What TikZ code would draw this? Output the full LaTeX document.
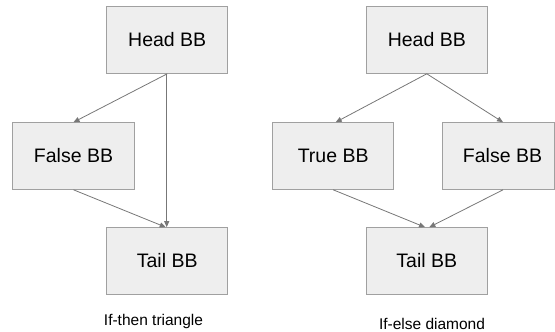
\documentclass[tikz,border=0pt]{standalone}
\usepackage{fontspec}
\setmainfont{Liberation Sans}
\usetikzlibrary{arrows.meta}
\definecolor{boxfill}{HTML}{EEEEEE}
\definecolor{boxline}{HTML}{A0A0A0}
\definecolor{edgecol}{HTML}{777777}
\tikzset{
  bb/.style={draw=boxline, fill=boxfill, line width=1pt, minimum width=121pt,
    minimum height=66.6pt, inner sep=0pt, font=\fontsize{19.5}{22}\selectfont},
  flow/.style={draw=edgecol, line width=0.8pt,
    -{Triangle[length=6pt,width=5pt]}},
  caption/.style={font=\fontsize{15.5}{18}\selectfont, inner sep=0pt}
}
\begin{document}
\begin{tikzpicture}[x=1pt,y=-1pt]
  \useasboundingbox (0,0) rectangle (555,332);
  % if-then triangle
  \node[bb] (lhead) at (167.2,40) {Head BB};
  \node[bb, minimum width=121.6pt] (lfalse) at (73.5,156) {False BB};
  \node[bb] (ltail) at (167.2,261) {Tail BB};
  \node[caption] (lcap) at (153.5,321) {If-then triangle};
  \draw[flow] (lhead.south) -- (lfalse.north);
  \draw[flow] ([xshift=-0.5pt]lhead.south) -- ([xshift=-0.5pt]ltail.north);
  \draw[flow] (lfalse.south) -- ([xshift=-1.5pt]ltail.north);
  % if-else diamond
  \node[bb] (rhead) at (426.8,40) {Head BB};
  \node[bb] (rtrue) at (333.2,156) {True BB};
  \node[bb, minimum width=111.6pt] (rfalse) at (498.5,156) {\hspace*{8pt}False BB};
  \node[bb] (rtail) at (426.8,261) {Tail BB};
  \node[caption] (rcap) at (432,323.5) {If-else diamond};
  \draw[flow] (rhead.south) -- ([xshift=2.5pt]rtrue.north);
  \draw[flow] (rhead.south) -- ([xshift=4.5pt]rfalse.north);
  \draw[flow] (rtrue.south) -- ([xshift=-1.8pt]rtail.north);
  \draw[flow] ([xshift=4.5pt]rfalse.south) -- ([xshift=2.5pt]rtail.north);
\end{tikzpicture}
\end{document}
